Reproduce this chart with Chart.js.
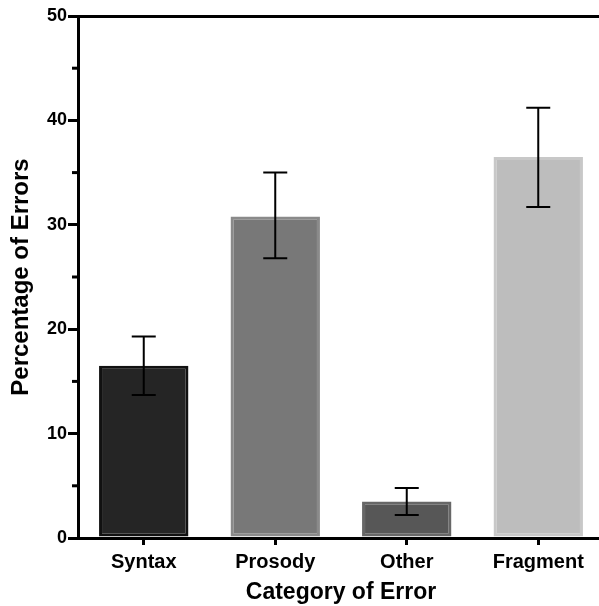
<!DOCTYPE html>
<html>
<head>
<meta charset="utf-8">
<script src="https://cdn.jsdelivr.net/npm/chart.js@4/dist/chart.umd.min.js"></script>
<style>
  html, body { margin: 0; padding: 0; background: #fff; overflow: hidden; }
  #wrap { width: 604px; height: 606px; }
</style>
</head>
<body>
<div id="wrap"><canvas id="chart" width="604" height="606"></canvas></div>
<script>
// data
const categories = ['Syntax', 'Prosody', 'Other', 'Fragment']
const percentages = [16.5, 30.8, 3.5, 36.5]
const errorLow = [13.7, 26.8, 2.2, 31.7]
const errorHigh = [19.3, 35.0, 4.8, 41.2]
const yTicks = [0, 10, 20, 30, 40, 50]
const yMinorTicks = [5, 15, 25, 35, 45]

const fills = ['#252525', '#787878', '#575757', '#bdbdbd']
const borders = ['#111111', '#8a8a8a', '#676767', '#c8c8c8']

/** error bars + minor ticks, drawn through the scales */
const errorBars = {
    id: 'errorBars',
    afterDatasetsDraw(chart) {
        const ctx = chart.ctx
        const x = chart.scales.x
        const y = chart.scales.y
        ctx.save()
        ctx.strokeStyle = '#000'
        ctx.lineWidth = 2
        categories.forEach((c, i) => {
            const px = x.getPixelForValue(i)
            const lo = y.getPixelForValue(errorLow[i])
            const hi = y.getPixelForValue(errorHigh[i])
            ctx.beginPath()
            ctx.moveTo(px, lo); ctx.lineTo(px, hi)
            ctx.moveTo(px - 12, lo); ctx.lineTo(px + 12, lo)
            ctx.moveTo(px - 12, hi); ctx.lineTo(px + 12, hi)
            ctx.stroke()
        })
        // minor ticks on the y axis
        ctx.lineWidth = 3
        yMinorTicks.forEach(v => {
            const py = y.getPixelForValue(v)
            ctx.beginPath()
            ctx.moveTo(y.right - 6, py); ctx.lineTo(y.right, py)
            ctx.stroke()
        })
        ctx.restore()
    }
}

new Chart(document.getElementById('chart'), {
    type: 'bar',
    data: {
        labels: categories,
        datasets: [{
            data: percentages,
            backgroundColor: fills,
            borderColor: borders,
            borderWidth: 3,
            borderSkipped: false,
            barPercentage: 0.68,
            categoryPercentage: 1
        }]
    },
    plugins: [errorBars],
    options: {
        responsive: false,
        animation: false,
        layout: { padding: { top: 16, right: 0, left: 7, bottom: 0 } },
        plugins: { legend: { display: false }, tooltip: { enabled: false } },
        scales: {
            x: {
                offset: true,
                grid: { display: true, offset: false, drawOnChartArea: false, drawTicks: true, tickLength: 7, lineWidth: 3, color: '#000' },
                border: { display: true, width: 3, color: '#000' },
                ticks: { color: '#000', padding: 5, font: { family: 'Liberation Sans, Arial', size: 20, weight: 'bold' } },
                title: { display: true, text: 'Category of Error', color: '#000', padding: { top: 0, bottom: 0 }, font: { family: 'Liberation Sans, Arial', size: 23, weight: 'bold' } },
                afterFit(scale) { scale.height = 68 }
            },
            x2: {
                position: 'top',
                labels: categories,
                grid: { display: false },
                border: { display: true, width: 3, color: '#000' },
                ticks: { display: false },
                afterFit(scale) { scale.height = 0 }
            },
            y: {
                min: 0,
                max: 50,
                afterBuildTicks(scale) { scale.ticks = yTicks.map(v => ({ value: v })) },
                grid: { display: true, drawOnChartArea: false, drawTicks: true, tickLength: 10, lineWidth: 3, color: '#000' },
                border: { display: true, width: 3, color: '#000' },
                ticks: { color: '#000', padding: 1, font: { family: 'Liberation Sans, Arial', size: 18, weight: 'bold' } },
                title: { display: true, text: 'Percentage of Errors', color: '#000', padding: { top: 0, bottom: 6 }, font: { family: 'Liberation Sans, Arial', size: 24, weight: 'bold' } },
                afterFit(scale) { scale.width = 71 }
            }
        }
    }
})
</script>
</body>
</html>
